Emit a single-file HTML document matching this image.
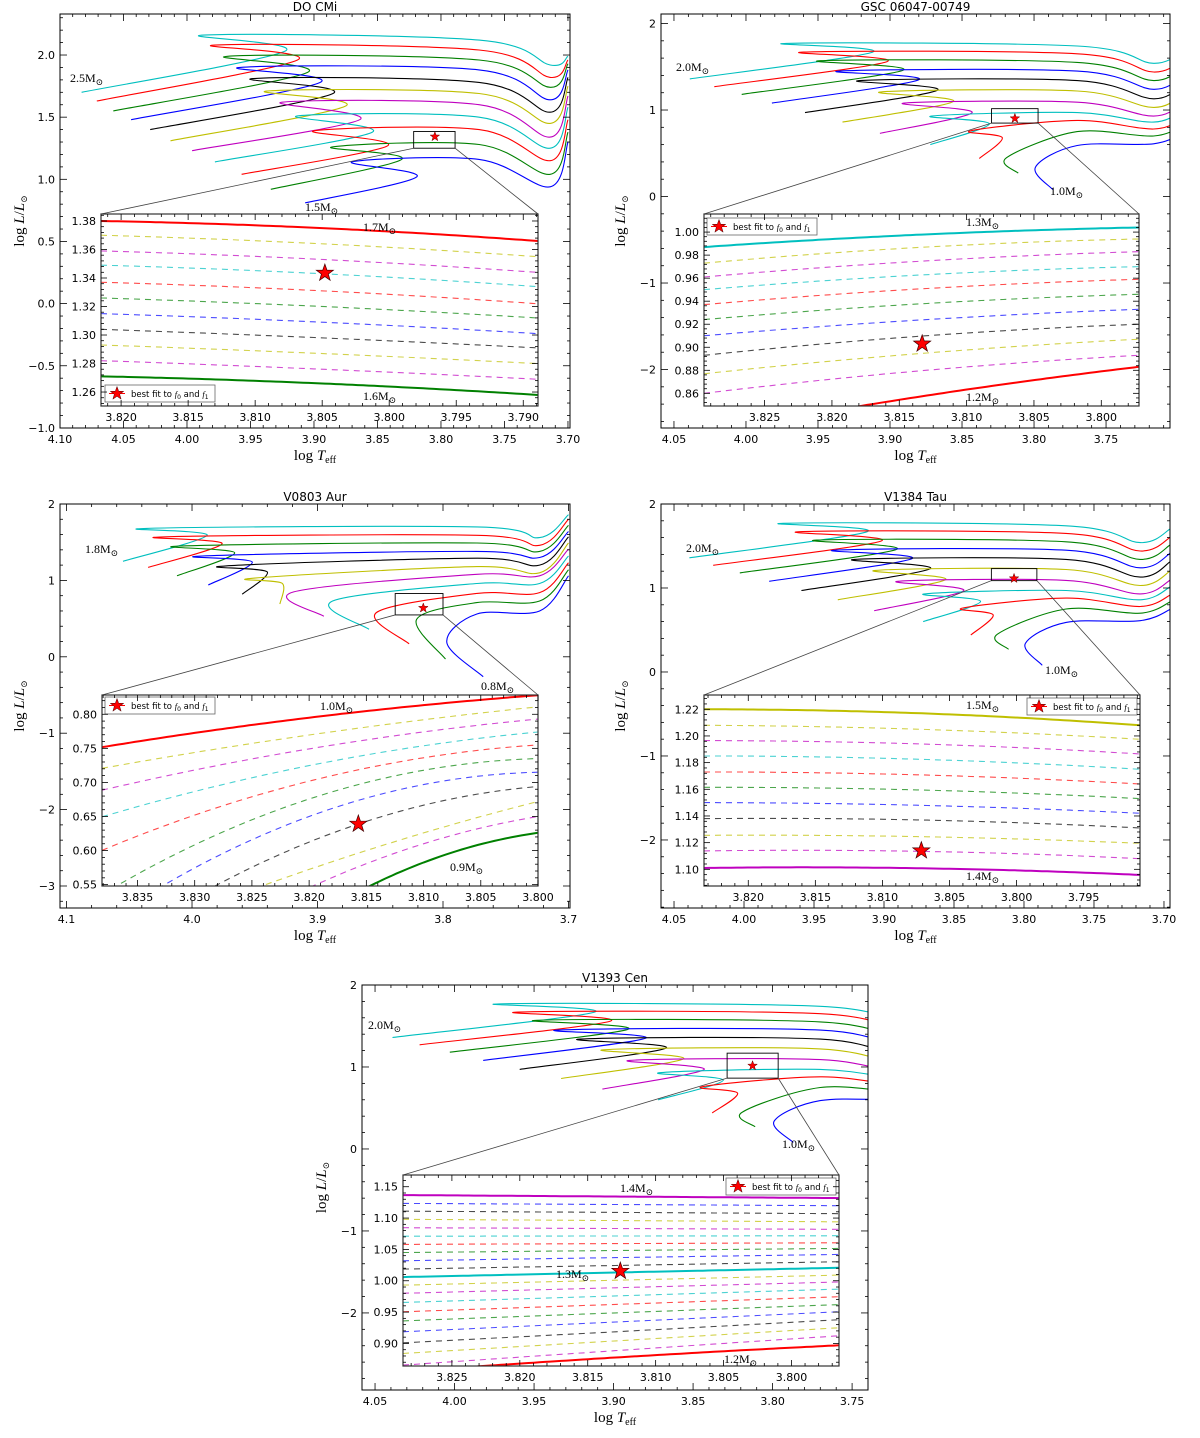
<!DOCTYPE html>
<html><head><meta charset="utf-8"><title>HR diagrams</title>
<style>
html,body{margin:0;padding:0;background:#fff;}
svg{display:block;font-family:"DejaVu Sans","Liberation Sans",sans-serif;}
.tk{font-size:11px;fill:#000;}
.ttl{font-size:12px;fill:#000;}
.ser{font-family:"Liberation Serif","DejaVu Serif",serif;}
</style></head>
<body>
<svg id="fig" xmlns="http://www.w3.org/2000/svg" width="1200" height="1438" viewBox="0 0 1200 1438"></svg>
<script>
const COL={c:'#00bfbf',r:'#ff0000',g:'#008000',b:'#0000ff',k:'#000000',y:'#bfbf00',m:'#bf00bf'};
const trackColors=['c','r','g','b','k','y','m','c','r','g','b'];

const a_zT=[4.083,4.071,4.058,4.044,4.029,4.013,3.996,3.978,3.957,3.934,3.907];
const a_zL=[1.70,1.63,1.55,1.48,1.40,1.31,1.23,1.14,1.04,0.92,0.81];
const a_tT=[3.923,3.913,3.905,3.895,3.885,3.875,3.864,3.854,3.842,3.831,3.819];
const a_tL=[2.03,1.96,1.86,1.78,1.69,1.59,1.48,1.38,1.27,1.16,1.02];
const a_kT=[3.987,3.978,3.968,3.958,3.948,3.937,3.925,3.913,3.900,3.886,3.870];
const a_kL=[2.16,2.08,1.99,1.90,1.81,1.71,1.62,1.51,1.39,1.26,1.14];
const a_pL=[2.12,2.04,1.96,1.88,1.78,1.69,1.60,1.50,1.40,1.28,1.16];
const a_dL=[1.92,1.82,1.74,1.64,1.54,1.45,1.34,1.25,1.15,1.04,0.94];
const a_eL=[1.99,1.96,1.93,1.88,1.82,1.75,1.67,1.58,1.48,1.38,1.30];
const a_branchT=[3.77,3.714,3.700];

const b_zT=[4.039,4.022,4.003,3.982,3.959,3.933,3.907,3.872,3.838,3.811,3.787];
const b_zL=[1.36,1.27,1.18,1.08,0.97,0.86,0.73,0.60,0.44,0.27,0.08];
const b_tT=[3.912,3.902,3.891,3.880,3.867,3.856,3.843,3.831,3.822,3.819,3.799];
const b_tL=[1.67,1.56,1.46,1.35,1.23,1.10,0.97,0.84,0.68,0.45,0.34];
const b_kT=[3.972,3.960,3.948,3.935,3.921,3.906,3.890,3.871,3.844,3.819,3.799];
const b_kL=[1.77,1.67,1.57,1.45,1.34,1.21,1.08,0.93,0.76,0.45,0.34];
const b_pL=[1.74,1.65,1.55,1.45,1.34,1.22,1.09,0.97,0.88,0.75,0.59];
const b_dL=[1.54,1.44,1.34,1.24,1.13,1.03,0.93,0.86,0.78,0.70,0.61];
const b_eL=[1.71,1.61,1.52,1.42,1.32,1.21,1.10,1.02,0.92,0.84,0.75];
const b_branchT=[3.77,3.717,3.695];

const c_zT=[4.055,4.035,4.012,3.987,3.960,3.930,3.895,3.859,3.827,3.798,3.768];
const c_zL=[1.25,1.17,1.06,0.94,0.82,0.69,0.53,0.36,0.17,-0.03,-0.26];
const c_tT=[3.988,3.976,3.966,3.952,3.940,3.928,3.919,3.888,3.853,3.821,3.797];
const c_tL=[1.59,1.48,1.36,1.24,1.11,0.96,0.85,0.73,0.58,0.49,0.19];
const c_kT=[4.036,4.023,4.009,3.992,3.973,3.950,3.919,3.888,3.853,3.821,3.797];
const c_kL=[1.68,1.57,1.45,1.32,1.19,1.03,0.85,0.73,0.58,0.49,0.19];
const c_pL=[1.70,1.59,1.49,1.38,1.29,1.18,1.08,0.96,0.83,0.71,0.56];
const c_dL=[1.56,1.46,1.38,1.30,1.20,1.10,1.06,0.96,0.84,0.73,0.60];
const c_eL=[1.86,1.80,1.72,1.64,1.57,1.49,1.41,1.32,1.23,1.14,1.06];
const c_branchT=[3.773,3.723,3.700];

const i1_col=['r','y','m','c','r','g','b','k','y','m','g'];
const i1_solid=[1,0,0,0,0,0,0,0,0,0,1];
const i1_T0=[3.8215,3.8215,3.8215,3.8215,3.8215,3.8215,3.8215,3.8215,3.8215,3.8215,3.8215];
const i1_T1=[3.805,3.805,3.805,3.805,3.805,3.805,3.805,3.805,3.805,3.805,3.805];
const i1_T2=[3.789,3.789,3.789,3.789,3.789,3.789,3.789,3.789,3.789,3.789,3.789];
const i1_L0=[1.380,1.370,1.359,1.349,1.337,1.326,1.315,1.304,1.293,1.282,1.271];
const i1_L1=[1.375,1.364,1.353,1.343,1.331,1.320,1.309,1.298,1.287,1.276,1.266];
const i1_L2=[1.366,1.355,1.344,1.334,1.322,1.312,1.301,1.291,1.280,1.269,1.258];
const i1_star=[3.8048,1.3435];

const i2_col=['c','y','m','c','r','g','b','k','y','m','r'];
const i2_solid=[1,0,0,0,0,0,0,0,0,0,1];
const i2_T0=[3.8295,3.8295,3.8295,3.8295,3.8295,3.8295,3.8295,3.8295,3.8295,3.8295,3.8295];
const i2_T1=[3.813,3.813,3.813,3.813,3.813,3.813,3.813,3.813,3.813,3.813,3.813];
const i2_T2=[3.7972,3.7972,3.7972,3.7972,3.7972,3.7972,3.7972,3.7972,3.7972,3.7972,3.7972];
const i2_L0=[0.987,0.973,0.961,0.950,0.937,0.924,0.910,0.893,0.877,0.860,0.825];
const i2_L1=[0.998,0.987,0.975,0.963,0.951,0.938,0.924,0.910,0.895,0.880,0.858];
const i2_L2=[1.004,0.994,0.983,0.970,0.959,0.946,0.933,0.920,0.907,0.893,0.883];
const i2_star=[3.8133,0.903];

const i3_col=['r','y','m','c','r','g','b','k','y','m','g'];
const i3_solid=[1,0,0,0,0,0,0,0,0,0,1];
const i3_T0=[3.838,3.838,3.838,3.838,3.838,3.836,3.832,3.828,3.8238,3.8194,3.8147];
const i3_L0=[0.752,0.721,0.689,0.650,0.601,0.556,0.556,0.550,0.550,0.550,0.548];
const i3_T1=[3.819,3.819,3.819,3.819,3.819,3.819,3.819,3.8157,3.819,3.810,3.8079];
const i3_L1=[0.797,0.772,0.752,0.728,0.706,0.681,0.656,0.639,0.578,0.610,0.595];
const i3_T2=[3.800,3.800,3.800,3.800,3.800,3.800,3.800,3.800,3.800,3.800,3.800];
const i3_L2=[0.828,0.811,0.793,0.774,0.755,0.735,0.715,0.694,0.672,0.650,0.626];
const i3_star=[3.8157,0.639];

const i4_col=['y','y','m','c','r','g','b','k','y','m','m'];
const i4_solid=[1,0,0,0,0,0,0,0,0,0,1];
const i4_T0=[3.8233,3.8233,3.8233,3.8233,3.8233,3.8233,3.8233,3.8233,3.8233,3.8233,3.8233];
const i4_T1=[3.8072,3.8072,3.8072,3.8072,3.8072,3.8072,3.8072,3.8072,3.8072,3.8072,3.8072];
const i4_T2=[3.7908,3.7908,3.7908,3.7908,3.7908,3.7908,3.7908,3.7908,3.7908,3.7908,3.7908];
const i4_L0=[1.220,1.208,1.1965,1.185,1.173,1.1615,1.150,1.138,1.1255,1.1138,1.101];
const i4_L1=[1.217,1.205,1.194,1.1825,1.1708,1.1595,1.148,1.137,1.1245,1.1135,1.1008];
const i4_L2=[1.208,1.1975,1.1865,1.175,1.164,1.153,1.142,1.131,1.1195,1.108,1.0958];
const i4_star=[3.8071,1.114];

const i5_col=['m','b','k','y','m','c','r','g','b','k','c','y','m','c','r','g','b','k','y','m','r'];
const i5_solid=[1,0,0,0,0,0,0,0,0,0,1,0,0,0,0,0,0,0,0,0,1];
const i5_T0=[3.8286,3.8286,3.8286,3.8286,3.8286,3.8286,3.8286,3.8286,3.8286,3.8286,3.8286,3.8286,3.8286,3.8286,3.8286,3.8286,3.8286,3.8286,3.8286,3.8286,3.8286];
const i5_T1=[3.8126,3.8126,3.8126,3.8126,3.8126,3.8126,3.8126,3.8126,3.8126,3.8126,3.8126,3.8126,3.8126,3.8126,3.8126,3.8126,3.8126,3.8126,3.8126,3.8126,3.8126];
const i5_T2=[3.7965,3.7965,3.7965,3.7965,3.7965,3.7965,3.7965,3.7965,3.7965,3.7965,3.7965,3.7965,3.7965,3.7965,3.7965,3.7965,3.7965,3.7965,3.7965,3.7965,3.7965];
const i5_L0=[1.1367,1.1234,1.111,1.098,1.0846,1.071,1.058,1.045,1.0319,1.0186,1.0059,0.993,0.980,0.9654,0.9505,0.936,0.9186,0.901,0.884,0.8654,0.855];
const i5_L1=[1.1343,1.1216,1.109,1.096,1.0833,1.0714,1.0593,1.0483,1.037,1.0245,1.0133,1.001,0.989,0.976,0.9625,0.949,0.9345,0.919,0.9045,0.889,0.878];
const i5_L2=[1.1319,1.1197,1.107,1.094,1.082,1.0718,1.0606,1.0516,1.042,1.0303,1.0207,1.009,0.998,0.9867,0.9745,0.962,0.9505,0.9378,0.925,0.9122,0.897];
const i5_star=[3.8126,1.0154];

const p1_xt=['4.10','4.05','4.00','3.95','3.90','3.85','3.80','3.75','3.70'];
const p1_yt=['-1.0','-0.5','0.0','0.5','1.0','1.5','2.0'];
const p2_xt=['4.05','4.00','3.95','3.90','3.85','3.80','3.75'];
const p2_yt=['-2','-1','0','1','2'];
const p3_xt=['4.1','4.0','3.9','3.8','3.7'];
const p3_yt=['-3','-2','-1','0','1','2'];
const p4_xt=['4.05','4.00','3.95','3.90','3.85','3.80','3.75','3.70'];
const p4_yt=['-2','-1','0','1','2'];
const p5_xt=['4.05','4.00','3.95','3.90','3.85','3.80','3.75'];
const p5_yt=['-2','-1','0','1','2'];
const i1_xt=['3.820','3.815','3.810','3.805','3.800','3.795','3.790'];
const i1_yt=['1.26','1.28','1.30','1.32','1.34','1.36','1.38'];
const i2_xt=['3.825','3.820','3.815','3.810','3.805','3.800'];
const i2_yt=['0.86','0.88','0.90','0.92','0.94','0.96','0.98','1.00'];
const i3_xt=['3.835','3.830','3.825','3.820','3.815','3.810','3.805','3.800'];
const i3_yt=['0.55','0.60','0.65','0.70','0.75','0.80'];
const i4_xt=['3.820','3.815','3.810','3.805','3.800','3.795'];
const i4_yt=['1.10','1.12','1.14','1.16','1.18','1.20','1.22'];
const i5_xt=['3.825','3.820','3.815','3.810','3.805','3.800'];
const i5_yt=['0.90','0.95','1.00','1.05','1.10','1.15'];

const NS='http://www.w3.org/2000/svg';
const svg=document.getElementById('fig');
function el(tag,attrs,parent){const e=document.createElementNS(NS,tag);for(const k in attrs)e.setAttribute(k,attrs[k]);(parent||svg).appendChild(e);return e;}
function sx(ax,T){return ax.x0+(T-ax.xl[0])/(ax.xl[1]-ax.xl[0])*(ax.x1-ax.x0);}
function sy(ax,L){return ax.y1-(L-ax.yl[0])/(ax.yl[1]-ax.yl[0])*(ax.y1-ax.y0);}
function catmull(p){let d='M'+p[0][0].toFixed(1)+','+p[0][1].toFixed(1);
 for(let i=0;i<p.length-1;i++){const a=p[Math.max(i-1,0)],b=p[i],c=p[i+1],e=p[Math.min(i+2,p.length-1)];
  const c1=[b[0]+(c[0]-a[0])/6,b[1]+(c[1]-a[1])/6],c2=[c[0]-(e[0]-b[0])/6,c[1]-(e[1]-b[1])/6];
  d+=' C'+c1[0].toFixed(1)+','+c1[1].toFixed(1)+' '+c2[0].toFixed(1)+','+c2[1].toFixed(1)+' '+c[0].toFixed(1)+','+c[1].toFixed(1);}
 return d;}
function starPts(cx,cy,R){const r=R*0.4;let s=[];for(let i=0;i<10;i++){const a=-Math.PI/2+i*Math.PI/5,rr=i%2?r:R;s.push((cx+rr*Math.cos(a)).toFixed(2)+','+(cy+rr*Math.sin(a)).toFixed(2));}return s.join(' ');}
let clipN=0;
function clipFor(ax){const id='clip'+(clipN++);const cp=el('clipPath',{id:id});el('rect',{x:ax.x0,y:ax.y0,width:ax.x1-ax.x0,height:ax.y1-ax.y0},cp);return 'url(#'+id+')';}
function mlabel(parent,x,y,m,name){const t=el('text',{x:x,y:y,class:'ser','font-size':'12'},parent);
 
 
 t.textContent=m+'M';const s=el('tspan',{'font-size':'9',dy:'3'},t);s.textContent='\u2299';return t;}

function ticksAndLabels(ax,g,xt,yt,isInset){
 const majL=isInset?6:7,minL=3;
 const xv=xt.map(Number),yv=yt.map(Number);
 const xs=xv.length>1?xv[1]-xv[0]:0.05, ys=yv[1]-yv[0];
 const sub=5;
 const xmin=Math.min(ax.xl[0],ax.xl[1]),xmax=Math.max(ax.xl[0],ax.xl[1]);
 for(let v=xv[0]-xs*3;Math.abs(v-xv[0])<=Math.abs(xs)*(xv.length+3);v+=xs/sub){
  if(v<xmin-1e-9||v>xmax+1e-9)continue;const x=sx(ax,v);
  const isMaj=xv.some(q=>Math.abs(q-v)<Math.abs(xs)/100);const L=isMaj?majL:minL;
  el('line',{x1:x,y1:ax.y1,x2:x,y2:ax.y1-L,stroke:'#000','stroke-width':0.8},g);
  el('line',{x1:x,y1:ax.y0,x2:x,y2:ax.y0+L,stroke:'#000','stroke-width':0.8},g);}
 for(let v=yv[0]-ys*3;v<=yv[yv.length-1]+ys*3+1e-9;v+=ys/sub){
  if(v<ax.yl[0]-1e-9||v>ax.yl[1]+1e-9)continue;const y=sy(ax,v);
  const isMaj=yv.some(q=>Math.abs(q-v)<ys/100);const L=isMaj?majL:minL;
  el('line',{x1:ax.x0,y1:y,x2:ax.x0+L,y2:y,stroke:'#000','stroke-width':0.8},g);
  el('line',{x1:ax.x1,y1:y,x2:ax.x1-L,y2:y,stroke:'#000','stroke-width':0.8},g);}
 xt.forEach((s,i)=>{const t=el('text',{x:sx(ax,xv[i]),y:ax.y1+15,'text-anchor':'middle',class:'tk'},g);
  
  
  t.textContent=s.replace('-','\u2212');});
 yt.forEach((s,i)=>{const t=el('text',{x:ax.x0-5,y:sy(ax,yv[i])+4,'text-anchor':'end',class:'tk'},g);
  
  
  t.textContent=s.replace('-','\u2212');});
}

function drawMain(p){
 const ax=p.ax;const g=el('g',{});
 
 
 el('rect',{x:ax.x0,y:ax.y0,width:ax.x1-ax.x0,height:ax.y1-ax.y0,fill:'#fff'},g);
 const cg=el('g',{'clip-path':clipFor(ax)},g);
 const d=p.tr;
 for(let i=0;i<d.zT.length;i++){
  const pts=[[d.zT[i],d.zL[i]],[d.tT[i],d.tL[i]]];
  if(d.kT[i]!==d.tT[i]||d.kL[i]!==d.tL[i])pts.push([d.kT[i],d.kL[i]]);
  pts.push([d.br[0],d.pL[i]],[d.br[1],d.dL[i]],[d.br[2],d.eL[i]]);
  const px=pts.map(q=>[sx(ax,q[0]),sy(ax,q[1])]);
  const path=el('path',{d:catmull(px),fill:'none',stroke:COL[trackColors[i]],'stroke-width':1.1},cg);
  
  
 }
 const ins=p.ins;
 const rx0=sx(ax,ins.xl[0]),rx1=sx(ax,ins.xl[1]),ry0=sy(ax,ins.yl[1]),ry1=sy(ax,ins.yl[0]);
 const zr=el('rect',{x:rx0,y:ry0,width:rx1-rx0,height:ry1-ry0,fill:'none',stroke:'#000','stroke-width':0.9},g);
 
 
 const c1=el('line',{x1:rx0,y1:ry1,x2:ins.x0,y2:ins.y0,stroke:'#444','stroke-width':0.8},g);
 
 
 const c2=el('line',{x1:rx1,y1:ry1,x2:ins.x1,y2:ins.y0,stroke:'#444','stroke-width':0.8},g);
 
 
 const ms=el('polygon',{points:starPts(sx(ax,ins.star[0]),sy(ax,ins.star[1]),5),fill:'#ff0000',stroke:'#600','stroke-width':0.5},g);
 
 
 mlabel(g,p.lab1[0],p.lab1[1],p.lab1[2],'mass-label-top');
 mlabel(g,p.lab2[0],p.lab2[1],p.lab2[2],'mass-label-bottom');
 el('rect',{x:ax.x0,y:ax.y0,width:ax.x1-ax.x0,height:ax.y1-ax.y0,fill:'none',stroke:'#000','stroke-width':1},g);
 ticksAndLabels(ax,g,p.xt,p.yt,false);
 const ti=el('text',{x:(ax.x0+ax.x1)/2,y:ax.y0-3,'text-anchor':'middle',class:'ttl'},g);
 
 
 ti.textContent=p.title;
 const xl=el('text',{x:(ax.x0+ax.x1)/2,y:ax.y1+32,'text-anchor':'middle',class:'ser','font-size':'15'},g);
 
 
 xl.textContent='log ';const xt1=el('tspan',{'font-style':'italic'},xl);xt1.textContent='T';const xt2=el('tspan',{'font-size':'10',dy:'3'},xl);xt2.textContent='eff';
 const cy=(ax.y0+ax.y1)/2, lx=ax.x0-36;
 const yl=el('text',{x:lx,y:cy,'text-anchor':'middle',class:'ser','font-size':'15',transform:'rotate(-90 '+lx+' '+cy+')'},g);
 
 
 yl.textContent='log ';const y1=el('tspan',{'font-style':'italic'},yl);y1.textContent='L';const y2=el('tspan',{},yl);y2.textContent='/';
 const y3=el('tspan',{'font-style':'italic'},yl);y3.textContent='L';const y4=el('tspan',{'font-size':'9',dy:'3'},yl);y4.textContent='\u2299';
 drawInset(ins,p.name);
}

function drawInset(ins,name){
 const g=el('g',{});
 
 
 el('rect',{x:ins.x0,y:ins.y0,width:ins.x1-ins.x0,height:ins.y1-ins.y0,fill:'#fff'},g);
 const cg=el('g',{'clip-path':clipFor(ins)},g);
 for(let i=0;i<ins.L0.length;i++){
  const T0=ins.T0[i],T1=ins.T1[i],T2=ins.T2[i],L0=ins.L0[i],L1=ins.L1[i],L2=ins.L2[i];
  const f=T=>L0*(T-T1)*(T-T2)/((T0-T1)*(T0-T2))+L1*(T-T0)*(T-T2)/((T1-T0)*(T1-T2))+L2*(T-T0)*(T-T1)/((T2-T0)*(T2-T1));
  let d='';for(let s=0;s<=80;s++){const T=ins.xl[0]+(ins.xl[1]-ins.xl[0])*s/80;d+=(s?'L':'M')+sx(ins,T).toFixed(1)+','+sy(ins,f(T)).toFixed(1);}
  const solid=ins.solid[i];
  const pa=el('path',{d:d,fill:'none',stroke:COL[ins.col[i]],'stroke-width':solid?2:1.1,'stroke-dasharray':solid?'none':'6,5',opacity:solid?1:0.7},cg);
  
  
 }
 const st=el('polygon',{points:starPts(sx(ins,ins.star[0]),sy(ins,ins.star[1]),9),fill:'#ff0000',stroke:'#400','stroke-width':0.7},g);
 
 
 mlabel(g,ins.lab1[0],ins.lab1[1],ins.lab1[2],'inset-mass-label');
 mlabel(g,ins.lab2[0],ins.lab2[1],ins.lab2[2],'inset-mass-label');
 const lg=el('g',{},g);
 
 
 const [lx,ly]=ins.leg;
 el('rect',{x:lx,y:ly,width:110,height:17,fill:'#fff',stroke:'#666','stroke-width':0.8},lg);
 el('line',{x1:lx+4,y1:ly+8.5,x2:lx+20,y2:ly+8.5,stroke:'#ff0000','stroke-width':1},lg);
 el('polygon',{points:starPts(lx+12,ly+8.5,7),fill:'#ff0000',stroke:'#400','stroke-width':0.5},lg);
 const lt=el('text',{x:lx+26,y:ly+12,'font-size':'8.5'},lg);
 lt.textContent='best fit to ';const f0=el('tspan',{'font-style':'italic',class:'ser'},lt);f0.textContent='f';
 const s0=el('tspan',{'font-size':'6',dy:'2'},lt);s0.textContent='0';const an=el('tspan',{dy:'-2'},lt);an.textContent=' and ';
 const f1=el('tspan',{'font-style':'italic',class:'ser'},lt);f1.textContent='f';const s1=el('tspan',{'font-size':'6',dy:'2'},lt);s1.textContent='1';
 el('rect',{x:ins.x0,y:ins.y0,width:ins.x1-ins.x0,height:ins.y1-ins.y0,fill:'none',stroke:'#333','stroke-width':1.2},g);
 ticksAndLabels(ins,g,ins.xt,ins.yt,true);
}

const trA={zT:a_zT,zL:a_zL,tT:a_tT,tL:a_tL,kT:a_kT,kL:a_kL,pL:a_pL,dL:a_dL,eL:a_eL,br:a_branchT};
const trB={zT:b_zT,zL:b_zL,tT:b_tT,tL:b_tL,kT:b_kT,kL:b_kL,pL:b_pL,dL:b_dL,eL:b_eL,br:b_branchT};
const trC={zT:c_zT,zL:c_zL,tT:c_tT,tL:c_tL,kT:c_kT,kL:c_kL,pL:c_pL,dL:c_dL,eL:c_eL,br:c_branchT};

const panels=[
 {name:'do-cmi',title:'DO CMi',tr:trA,xt:p1_xt,yt:p1_yt,
  ax:{x0:60,y0:14,x1:570,y1:428,xl:[4.10,3.6984],yl:[-1.0008,2.33]},
  lab1:[70,82,'2.5'],lab2:[305,211,'1.5'],
  ins:{x0:101,y0:214,x1:538,y1:406,xl:[3.8215,3.7889],yl:[1.2502,1.3849],xt:i1_xt,yt:i1_yt,
   col:i1_col,solid:i1_solid,T0:i1_T0,T1:i1_T1,T2:i1_T2,L0:i1_L0,L1:i1_L1,L2:i1_L2,star:i1_star,
   lab1:[363,231,'1.7'],lab2:[363,400,'1.6'],leg:[105,385]}},
 {name:'gsc-06047-00749',title:'GSC 06047-00749',tr:trB,xt:p2_xt,yt:p2_yt,
  ax:{x0:661,y0:14,x1:1170,y1:428,xl:[4.059,3.7056],yl:[-2.676,2.11]},
  lab1:[676,71,'2.0'],lab2:[1050,195,'1.0'],
  ins:{x0:704,y0:214,x1:1139,y1:406,xl:[3.8295,3.7972],yl:[0.849,1.0157],xt:i2_xt,yt:i2_yt,
   col:i2_col,solid:i2_solid,T0:i2_T0,T1:i2_T1,T2:i2_T2,L0:i2_L0,L1:i2_L1,L2:i2_L2,star:i2_star,
   lab1:[966,226,'1.3'],lab2:[966,401,'1.2'],leg:[707,218]}},
 {name:'v0803-aur',title:'V0803 Aur',tr:trC,xt:p3_xt,yt:p3_yt,
  ax:{x0:60,y0:504,x1:570,y1:908,xl:[4.1052,3.6988],yl:[-3.288,2.0]},
  lab1:[85,553,'1.8'],lab2:[481,690,'0.8'],
  ins:{x0:102,y0:695,x1:538,y1:886,xl:[3.8381,3.800],yl:[0.548,0.8283],xt:i3_xt,yt:i3_yt,
   col:i3_col,solid:i3_solid,T0:i3_T0,T1:i3_T1,T2:i3_T2,L0:i3_L0,L1:i3_L1,L2:i3_L2,star:i3_star,
   lab1:[320,710,'1.0'],lab2:[450,871,'0.9'],leg:[105,697]}},
 {name:'v1384-tau',title:'V1384 Tau',tr:trB,xt:p4_xt,yt:p4_yt,
  ax:{x0:661,y0:504,x1:1170,y1:908,xl:[4.0593,3.6957],yl:[-2.81,2.0]},
  lab1:[686,552,'2.0'],lab2:[1045,674,'1.0'],
  ins:{x0:704,y0:695,x1:1140,y1:886,xl:[3.8233,3.7908],yl:[1.0875,1.2307],xt:i4_xt,yt:i4_yt,
   col:i4_col,solid:i4_solid,T0:i4_T0,T1:i4_T1,T2:i4_T2,L0:i4_L0,L1:i4_L1,L2:i4_L2,star:i4_star,
   lab1:[966,709,'1.5'],lab2:[966,880,'1.4'],leg:[1027,698]}},
 {name:'v1393-cen',title:'V1393 Cen',tr:trB,xt:p5_xt,yt:p5_yt,
  ax:{x0:362,y0:985,x1:868,y1:1390,xl:[4.0582,3.740],yl:[-2.94,2.0]},
  lab1:[368,1029,'2.0'],lab2:[782,1148,'1.0'],
  ins:{x0:403,y0:1175,x1:839,y1:1366,xl:[3.8286,3.7965],yl:[0.864,1.1687],xt:i5_xt,yt:i5_yt,
   col:i5_col,solid:i5_solid,T0:i5_T0,T1:i5_T1,T2:i5_T2,L0:i5_L0,L1:i5_L1,L2:i5_L2,star:i5_star,
   lab1:[620,1192,'1.4'],lab2:[724,1363,'1.2'],leg:[726,1178]}}
];
panels.forEach(drawMain);
mlabel(svg,556,1278,'1.3','inset-mass-label-middle');
</script>
</body></html>
